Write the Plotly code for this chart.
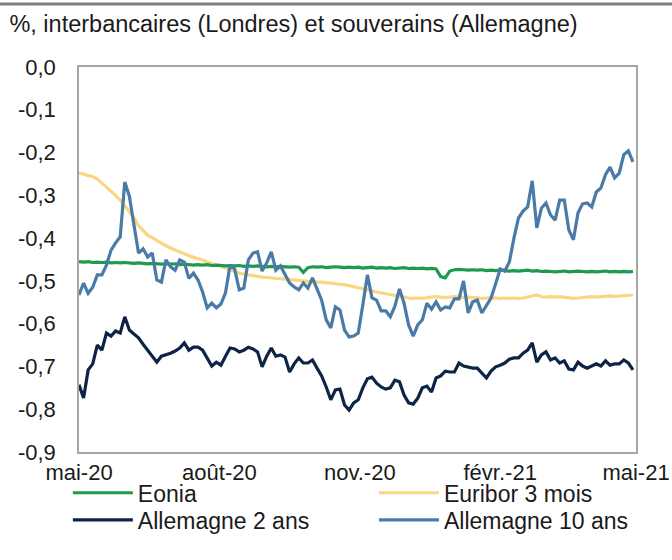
import plotly.graph_objects as go
import pandas as pd

# date grid (every 3 days, May 2020 -> end of April 2021)
dates = pd.date_range("2020-05-01", periods=122, freq="3D")

eonia = [
    -0.455, -0.456, -0.455, -0.457, -0.456, -0.457, -0.456, -0.458, -0.457, -0.458,
    -0.457, -0.458, -0.459, -0.458, -0.459, -0.460, -0.459, -0.460, -0.461, -0.460,
    -0.461, -0.460, -0.462, -0.461, -0.462, -0.463, -0.462, -0.463, -0.462, -0.464,
    -0.463, -0.464, -0.465, -0.464, -0.465, -0.464, -0.466, -0.465, -0.466, -0.465,
    -0.466, -0.467, -0.466, -0.467, -0.466, -0.467, -0.468, -0.467, -0.468, -0.480,
    -0.469, -0.467, -0.468, -0.467, -0.469, -0.468, -0.467, -0.468, -0.469, -0.468,
    -0.469, -0.468, -0.470, -0.469, -0.468, -0.470, -0.469, -0.470, -0.469, -0.471,
    -0.470, -0.469, -0.471, -0.470, -0.471, -0.470, -0.472, -0.471, -0.472, -0.490,
    -0.493, -0.477, -0.474, -0.473, -0.474, -0.475, -0.474, -0.475, -0.474, -0.476,
    -0.475, -0.476, -0.475, -0.476, -0.477, -0.476, -0.477, -0.476, -0.475, -0.477,
    -0.476, -0.478, -0.477, -0.478, -0.479, -0.478, -0.477, -0.479, -0.478, -0.477,
    -0.478, -0.479, -0.478, -0.479, -0.478, -0.477, -0.479, -0.478, -0.479, -0.478,
    -0.479, -0.478,
]

euribor_3m = [
    -0.248, -0.250, -0.254, -0.256, -0.262, -0.271, -0.280, -0.290, -0.300, -0.311,
    -0.325, -0.339, -0.352, -0.371, -0.383, -0.393, -0.399, -0.406, -0.413, -0.418,
    -0.423, -0.428, -0.432, -0.436, -0.441, -0.445, -0.448, -0.451, -0.456, -0.460,
    -0.463, -0.466, -0.470, -0.475, -0.478, -0.482, -0.484, -0.486, -0.487, -0.490,
    -0.491, -0.492, -0.493, -0.495, -0.496, -0.497, -0.498, -0.499, -0.500, -0.501,
    -0.502, -0.503, -0.503, -0.503, -0.504, -0.505, -0.506, -0.507, -0.509, -0.511,
    -0.514, -0.516, -0.518, -0.520, -0.523, -0.526, -0.528, -0.531, -0.533, -0.535,
    -0.537, -0.539, -0.540, -0.541, -0.540, -0.541, -0.539, -0.538, -0.537, -0.538,
    -0.539, -0.538, -0.537, -0.538, -0.539, -0.538, -0.539, -0.540, -0.541, -0.540,
    -0.539, -0.540, -0.541, -0.540, -0.541, -0.540, -0.541, -0.540, -0.538, -0.536,
    -0.533, -0.537, -0.538, -0.537, -0.538, -0.537, -0.538, -0.539, -0.541, -0.540,
    -0.539, -0.538, -0.537, -0.538, -0.537, -0.536, -0.535, -0.536, -0.535, -0.534,
    -0.533, -0.533,
]

bund_2y = [
    -0.743, -0.774, -0.708, -0.694, -0.650, -0.662, -0.622, -0.629, -0.617, -0.622,
    -0.584, -0.615, -0.624, -0.633, -0.648, -0.662, -0.673, -0.690, -0.676, -0.673,
    -0.669, -0.664, -0.657, -0.645, -0.662, -0.655, -0.655, -0.662, -0.680, -0.699,
    -0.690, -0.697, -0.676, -0.657, -0.659, -0.666, -0.662, -0.655, -0.659, -0.666,
    -0.701, -0.676, -0.657, -0.676, -0.673, -0.678, -0.713, -0.694, -0.680, -0.692,
    -0.692, -0.685, -0.704, -0.722, -0.748, -0.778, -0.755, -0.753, -0.790, -0.802,
    -0.785, -0.778, -0.750, -0.729, -0.725, -0.739, -0.748, -0.753, -0.750, -0.732,
    -0.736, -0.767, -0.785, -0.788, -0.774, -0.750, -0.746, -0.760, -0.727, -0.722,
    -0.711, -0.713, -0.713, -0.692, -0.699, -0.701, -0.704, -0.704, -0.715, -0.727,
    -0.711, -0.701, -0.697, -0.692, -0.683, -0.680, -0.680, -0.669, -0.662, -0.645,
    -0.690, -0.673, -0.666, -0.685, -0.680, -0.692, -0.687, -0.706, -0.708, -0.690,
    -0.699, -0.704, -0.699, -0.694, -0.699, -0.687, -0.697, -0.694, -0.694, -0.685,
    -0.692, -0.708,
]

bund_10y = [
    -0.533, -0.505, -0.529, -0.515, -0.486, -0.486, -0.463, -0.428, -0.411, -0.397,
    -0.269, -0.302, -0.369, -0.435, -0.425, -0.444, -0.435, -0.498, -0.503, -0.451,
    -0.467, -0.475, -0.451, -0.456, -0.494, -0.482, -0.498, -0.526, -0.563, -0.552,
    -0.563, -0.554, -0.528, -0.463, -0.472, -0.521, -0.517, -0.451, -0.435, -0.432,
    -0.477, -0.458, -0.432, -0.475, -0.465, -0.486, -0.505, -0.514, -0.521, -0.505,
    -0.517, -0.493, -0.521, -0.545, -0.591, -0.610, -0.561, -0.568, -0.615, -0.631,
    -0.629, -0.622, -0.556, -0.486, -0.540, -0.545, -0.570, -0.570, -0.584, -0.559,
    -0.519, -0.552, -0.603, -0.629, -0.603, -0.591, -0.552, -0.566, -0.549, -0.568,
    -0.561, -0.563, -0.542, -0.542, -0.500, -0.575, -0.549, -0.545, -0.575, -0.556,
    -0.540, -0.507, -0.472, -0.477, -0.456, -0.400, -0.353, -0.337, -0.327, -0.266,
    -0.376, -0.330, -0.318, -0.346, -0.358, -0.311, -0.311, -0.381, -0.404, -0.341,
    -0.320, -0.318, -0.327, -0.292, -0.283, -0.252, -0.234, -0.259, -0.248, -0.205,
    -0.196, -0.222,
]

y_ticks = [0.0, -0.1, -0.2, -0.3, -0.4, -0.5, -0.6, -0.7, -0.8, -0.9]
y_labels = ["0,0", "-0,1", "-0,2", "-0,3", "-0,4", "-0,5", "-0,6", "-0,7", "-0,8", "-0,9"]
x_ticks = ["2020-05-01", "2020-08-01", "2020-11-01", "2021-02-01", "2021-05-01"]
x_labels = ["mai-20", "août-20", "nov.-20", "févr.-21", "mai-21"]

FONT = "Liberation Sans, Arial, sans-serif"
INK = "#1a1a1a"

fig = go.Figure()
# drawing order: Euribor under, 10 ans on top; one legend box per entry
fig.add_trace(go.Scatter(x=dates, y=euribor_3m, mode="lines", name="Euribor 3 mois",
                         line=dict(color="#fad680", width=3.2), legend="legend2"))
fig.add_trace(go.Scatter(x=dates, y=eonia, mode="lines", name="Eonia",
                         line=dict(color="#1c9a4e", width=3.2), legend="legend"))
fig.add_trace(go.Scatter(x=dates, y=bund_2y, mode="lines", name="Allemagne 2 ans",
                         line=dict(color="#0e2446", width=3.2), legend="legend3"))
fig.add_trace(go.Scatter(x=dates, y=bund_10y, mode="lines", name="Allemagne 10 ans",
                         line=dict(color="#4a7ba7", width=3.2), legend="legend4"))

leg_common = dict(xref="container", yref="container",
                  xanchor="left", yanchor="middle",
                  font=dict(family=FONT, size=23, color=INK),
                  itemwidth=60, bgcolor="rgba(0,0,0,0)", visible=True)
col1, col2 = 0.101, 0.5565
row1, row2 = 0.12, 0.0714

fig.update_layout(
    width=672, height=560,
    showlegend=True,
    margin=dict(l=79, r=36, t=67, b=108, autoexpand=False),
    paper_bgcolor="white", plot_bgcolor="white",
    font=dict(family=FONT, size=22, color=INK),
    title=dict(text="%, interbancaires (Londres) et souverains (Allemagne)",
               xref="container", x=0.014, xanchor="left",
               yref="container", y=0.958, yanchor="middle",
               font=dict(family=FONT, size=23.5, color=INK)),
    xaxis=dict(type="date", range=["2020-05-01", "2021-05-01"],
               tickvals=x_ticks, ticktext=x_labels, showgrid=False, zeroline=False,
               showline=True, mirror=True, linecolor="#a6a6a6", linewidth=1.5,
               ticks="", tickfont=dict(size=22), ticklabeloverflow="allow"),
    yaxis=dict(range=[-0.9, 0.0], tickvals=y_ticks, ticktext=y_labels,
               showgrid=False, zeroline=False,
               showline=True, mirror=True, linecolor="#a6a6a6", linewidth=1.5,
               ticks="", ticklabelstandoff=17, tickfont=dict(size=22)),
    legend=dict(leg_common, x=col1, y=row1),
    legend2=dict(leg_common, x=col2, y=row1),
    legend3=dict(leg_common, x=col1, y=row2),
    legend4=dict(leg_common, x=col2, y=row2),
    shapes=[dict(type="line", xref="paper", yref="paper", layer="above",
                 x0=-0.15, x1=1.1, y0=1.1636, y1=1.1636,
                 line=dict(color="#7f7f7f", width=3))],
)

fig.write_html("out.html", config={"displayModeBar": False},
               post_script="document.body.style.margin = '0px';")
